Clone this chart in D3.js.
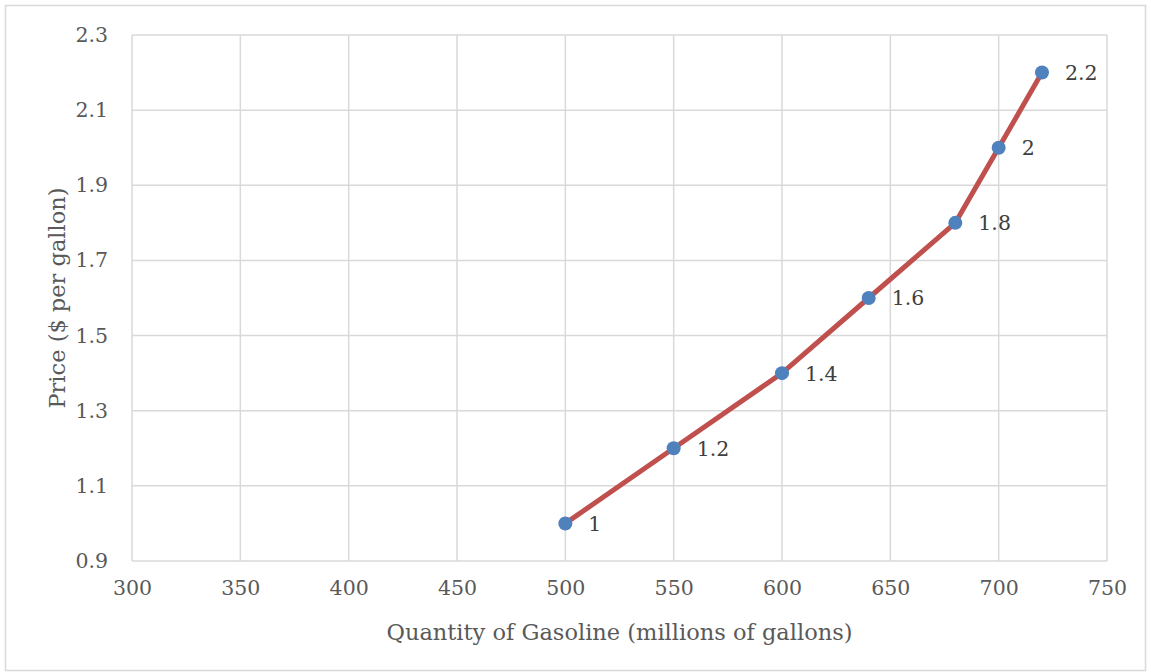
<!DOCTYPE html>
<html><head><meta charset="utf-8">
<script src="https://cdn.jsdelivr.net/npm/d3@7"></script>
<style>body{margin:0;background:#fff}svg{display:block}</style>
</head><body>
<script>
const quantity = [500, 550, 600, 640, 680, 700, 720];
const price = [1.0, 1.2, 1.4, 1.6, 1.8, 2.0, 2.2];
const xTicks = [300, 350, 400, 450, 500, 550, 600, 650, 700, 750];
const yTicks = [0.9, 1.1, 1.3, 1.5, 1.7, 1.9, 2.1, 2.3];
const xTitle = "Quantity of Gasoline (millions of gallons)";
const yTitle = "Price ($ per gallon)";

const W = 1151, H = 672;
const font = "'DejaVu Serif', serif";
const svg = d3.select("body").append("svg").attr("width", W).attr("height", H);
svg.append("rect").attr("x", 5.5).attr("y", 5.5).attr("width", 1140).attr("height", 665)
  .attr("fill", "#fff").attr("stroke", "#d9d9d9").attr("stroke-width", 1.5);

const x = d3.scaleLinear().domain([300, 750]).range([132, 1107]);
const y = d3.scaleLinear().domain([0.9, 2.3]).range([561, 35]);

const g = svg.append("g");
g.selectAll(".vg").data(xTicks).join("line")
  .attr("x1", d => x(d)).attr("x2", d => x(d)).attr("y1", y(2.3)).attr("y2", y(0.9))
  .attr("stroke", "#d9d9d9").attr("stroke-width", 1.5);
g.selectAll(".hg").data(yTicks).join("line")
  .attr("y1", d => y(d)).attr("y2", d => y(d)).attr("x1", x(300)).attr("x2", x(750))
  .attr("stroke", "#d9d9d9").attr("stroke-width", 1.5);

const xAxis = d3.axisBottom(x).tickValues(xTicks).tickSize(0).tickPadding(19).tickFormat(d3.format("d"));
const xa = svg.append("g").attr("transform", `translate(0,${y(0.9)})`).call(xAxis);
xa.select(".domain").remove();
xa.selectAll("text").attr("font-family", font).attr("font-size", 20.5).attr("fill", "#595959");

const yAxis = d3.axisLeft(y).tickValues(yTicks).tickSize(0).tickPadding(24).tickFormat(d3.format(".1f"));
const ya = svg.append("g").attr("transform", `translate(${x(300)},0)`).call(yAxis);
ya.select(".domain").remove();
ya.selectAll("text").attr("font-family", font).attr("font-size", 20.5).attr("fill", "#595959");

const pts = quantity.map((q, i) => ({q, p: price[i]}));
svg.append("path").datum(pts)
  .attr("d", d3.line().x(d => x(d.q)).y(d => y(d.p)))
  .attr("fill", "none").attr("stroke", "#C0504D").attr("stroke-width", 5).attr("stroke-linecap", "round").attr("stroke-linejoin", "round");
svg.selectAll(".pt").data(pts).join("circle")
  .attr("cx", d => x(d.q)).attr("cy", d => y(d.p)).attr("r", 7).attr("fill", "#4F81BD");
svg.selectAll(".lbl").data(pts).join("text")
  .attr("x", d => x(d.q) + 23).attr("y", d => y(d.p)).attr("dy", "0.36em")
  .attr("font-family", font).attr("font-size", 20.5).attr("fill", "#404040")
  .text(d => d3.format("~g")(d.p));

svg.append("text").attr("x", (x(300) + x(750)) / 2).attr("y", 640).attr("text-anchor", "middle")
  .attr("font-family", font).attr("font-size", 22.5).attr("fill", "#595959").text(xTitle);
svg.append("text").attr("transform", `translate(65,${(y(0.9) + y(2.3)) / 2}) rotate(-90)`)
  .attr("text-anchor", "middle").attr("font-family", font).attr("font-size", 22.5).attr("fill", "#595959").text(yTitle);
</script>
</body></html>
